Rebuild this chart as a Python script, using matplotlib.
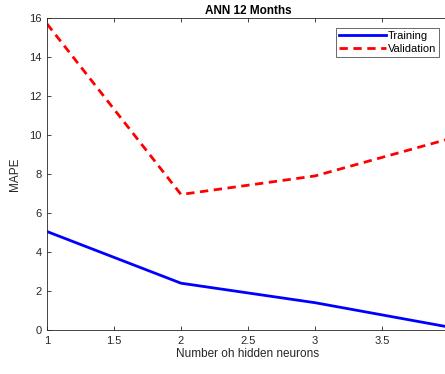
import matplotlib
matplotlib.use('Agg')
import matplotlib.pyplot as plt

# --- data ---
neurons = [1, 2, 3, 4]
training = [5.05, 2.4, 1.4, 0.15]
validation = [15.7, 6.95, 7.9, 9.8]
x_ticks = [1, 1.5, 2, 2.5, 3, 3.5, 4]
x_labels = ['1', '1.5', '2', '2.5', '3', '3.5', '']  # 4 falls outside the image
y_ticks = [0, 2, 4, 6, 8, 10, 12, 14, 16]

plt.rcParams['font.family'] = ['Liberation Sans', 'DejaVu Sans']

fig = plt.figure(figsize=(4.45, 3.74), dpi=100)
ax = fig.add_axes([47 / 445, 1 - 330 / 374, 402 / 445, 312 / 374])

ax.plot(neurons, training, color='#0000ff', lw=2, label='Training')
ax.plot(neurons, validation, color='#ff0000', lw=2, ls=(0, (3, 2)), label='Validation')

ax.set_xlim(1, 4)
ax.set_ylim(0, 16)
ax.set_xticks(x_ticks)
ax.set_xticklabels(x_labels)
ax.set_yticks(y_ticks)

axis_col = '#262626'
for s in ax.spines.values():
    s.set_color(axis_col)
    s.set_linewidth(0.6)
ax.tick_params(direction='in', top=True, right=True, length=3, width=0.6,
               colors=axis_col, labelsize=8, pad=4)

ax.set_xlabel('Number oh hidden neurons', fontsize=8.5, color=axis_col, labelpad=2)
ax.set_ylabel('MAPE', fontsize=8.5, color=axis_col, labelpad=6)
ax.set_title('ANN 12 Months', fontsize=8.5, fontweight='bold', pad=3)

leg = ax.legend(loc='upper right', bbox_to_anchor=(0.976, 0.968), fontsize=8,
                frameon=True, fancybox=False, handlelength=4.2, handletextpad=0.15,
                borderpad=0.3, labelspacing=0.2, borderaxespad=0)
leg.get_frame().set_edgecolor(axis_col)
leg.get_frame().set_linewidth(0.6)

fig.savefig('out.png', dpi=100)
